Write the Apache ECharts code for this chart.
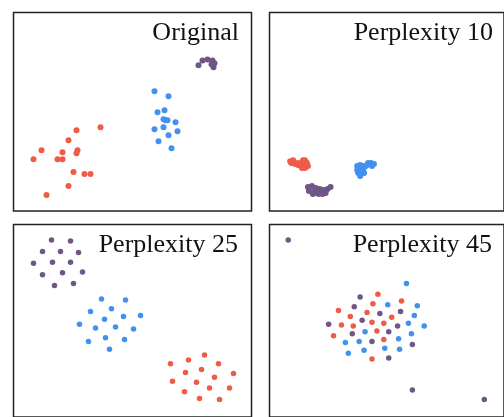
<!DOCTYPE html>
<html><head><meta charset="utf-8">
<script src="https://cdn.jsdelivr.net/npm/echarts@6/dist/echarts.min.js"></script>
<style>html,body{margin:0;padding:0;background:#fff}#c{width:504px;height:417px}</style>
</head><body><div id="c"></div>
<script>
// Panel titles
const titles = ['Original', 'Perplexity 10', 'Perplexity 25', 'Perplexity 45'];
// Class colours
const colors = { red: '#ef5b45', blue: '#4290ef', purple: '#6e5686' };

// Original
const origRed = [[63,81],[87,84],[55,71],[28,61],[49,59],[64,61],[63,58],[20,52],[44,52],[49,52],[60,39],[71,37],[77,37],[55,25],[33,16]];
const origBlue = [[141,120],[155,115],[151,101],[144,99],[152,91],[154,91],[162,89],[141,82],[150,84],[164,80],[155,76],[145,70],[158,63],[150,92]];
const origPurple = [[185,146],[189,151],[194,152],[199,151],[201,148],[200,144],[198,147]];

// Perplexity 10
const p10Red = [[21,50],[24,51],[22,48],[26,47],[29,46],[32,45],[34,51],[36,51],[35,48],[38,48],[39,45],[36,43],[33,43],[29,48],[37,46]];
const p10Blue = [[89,45],[92,46],[95,45],[89,41],[92,42],[95,41],[90,38],[93,37],[92,35],[96,38],[98,45],[100,48],[103,48],[106,47],[104,45]];
const p10Purple = [[39,24],[43,25],[47,23],[40,20],[44,19],[48,18],[52,19],[51,22],[55,21],[59,22],[62,24],[57,18],[44,17],[50,17],[54,17]];

// Perplexity 25
const p25Red = [[157,55],[175,59],[191,64],[205,55],[172,46],[188,49],[220,45],[159,37],[183,36],[201,41],[171,26],[196,30],[216,30],[186,19],[206,18]];
const p25Blue = [[88,122],[112,121],[77,109],[98,112],[127,105],[91,101],[110,104],[66,96],[82,92],[102,93],[120,91],[75,78],[92,82],[111,80],[96,70]];
const p25Purple = [[38,183],[57,182],[29,171],[47,171],[65,170],[20,159],[39,160],[57,160],[29,147],[49,149],[69,150],[41,136],[60,138]];

// Perplexity 45
const p45Red = [[110,127],[134,120],[105,117],[70,110],[99,108],[82,104],[124,103],[104,98],[116,97],[73,95],[85,94],[109,89],[65,84],[116,80],[104,60]];
const p45Blue = [[139,138],[120,116],[150,115],[147,105],[141,97],[157,94],[97,88],[144,86],[131,81],[77,77],[91,78],[80,66],[96,69],[117,71],[132,70]];
const p45Purple = [[19,183],[145,28],[218,18],[92,124],[86,114],[112,107],[133,109],[94,100],[60,96],[130,94],[121,88],[84,86],[104,78],[145,75],[121,61]];

const panelData = [
  [origRed, origBlue, origPurple],
  [p10Red, p10Blue, p10Purple],
  [p25Red, p25Blue, p25Purple],
  [p45Red, p45Blue, p45Purple]
];
const symbolSizes = [6, 6, 5.5, 5.5];

const PW = 238, PH = 199;
const lefts = [13.5, 269.5, 13.5, 269.5];
const tops = [12.5, 12.5, 224.5, 224.5];

const chart = echarts.init(document.getElementById('c'), null, { renderer: 'canvas' });
const grid = [], xAxis = [], yAxis = [], series = [], title = [];
for (let i = 0; i < 4; i++) {
  grid.push({ left: lefts[i], top: tops[i], width: PW, height: PH - 0.5, show: true,
    borderColor: '#222', borderWidth: 1.5, backgroundColor: '#fff', containLabel: false });
  xAxis.push({ type: 'value', gridIndex: i, min: 0, max: PW, show: false });
  yAxis.push({ type: 'value', gridIndex: i, min: 0, max: PH, show: false });
  const cl = ['red', 'blue', 'purple'];
  panelData[i].forEach((d, k) => {
    series.push({ type: 'scatter', xAxisIndex: i, yAxisIndex: i, data: d,
      symbolSize: symbolSizes[i], itemStyle: { color: colors[cl[k]], opacity: 1 },
      silent: true, animation: false });
  });
  const rightEdge = [239, 493, 238, 492][i];
  title.push({ text: titles[i], right: 504 - rightEdge, top: Math.floor(tops[i]) + 8, padding: 0,
    textStyle: { fontFamily: 'Liberation Serif', fontSize: 26, fontWeight: 'normal', color: '#111' } });
}
chart.setOption({ animation: false, backgroundColor: '#fff', title, grid, xAxis, yAxis, series });
</script></body></html>
